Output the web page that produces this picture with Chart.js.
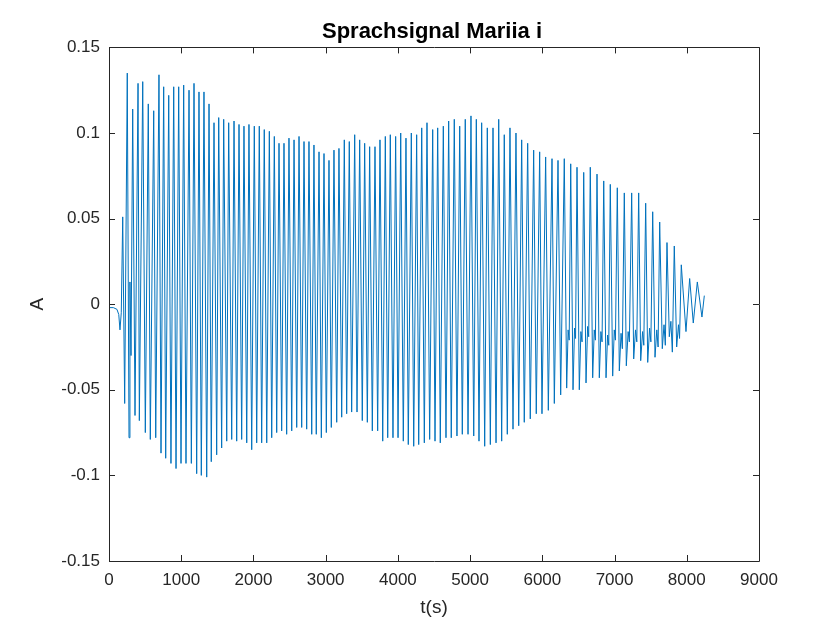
<!DOCTYPE html>
<html>
<head>
<meta charset="utf-8">
<title>Sprachsignal Mariia i</title>
<script src="https://cdn.jsdelivr.net/npm/chart.js@4.4.1/dist/chart.umd.min.js"></script>
<style>
    html, body { margin: 0; padding: 0; background: #fff; }
    #wrap { width: 840px; height: 630px; }
</style>
</head>
<body>
<div id="wrap"><canvas id="sig" width="840" height="630"></canvas></div>
<script>
(function () {
    'use strict';

    var titleText = 'Sprachsignal Mariia i';
    var xLabel = 't(s)';
    var yLabel = 'A';

    var xTicks = [0, 1000, 2000, 3000, 4000, 5000, 6000, 7000, 8000, 9000];
    var xTickLabels = ['0', '1000', '2000', '3000', '4000', '5000', '6000', '7000', '8000', '9000'];
    var yTicks = [-0.15, -0.1, -0.05, 0, 0.05, 0.1, 0.15];
    var yTickLabels = ['-0.15', '-0.1', '-0.05', '0', '0.05', '0.1', '0.15'];

    // turning points of the waveform (sample index, amplitude)
    var tSamples = [
        0, 60, 110, 135, 152, 170, 190, 217, 253, 277, 290, 305,
        328, 360, 402, 420, 467, 503, 544, 572, 619, 647, 692, 720,
        757, 785, 827, 858, 896, 928, 965, 997, 1034, 1066, 1108, 1140,
        1177, 1214, 1246, 1278, 1315, 1353, 1385, 1416, 1454, 1491, 1519, 1560,
        1588, 1630, 1657, 1699, 1731, 1768, 1800, 1837, 1869, 1907, 1938, 1976,
        2012, 2045, 2081, 2114, 2150, 2184, 2220, 2253, 2289, 2322, 2354, 2391,
        2423, 2460, 2492, 2530, 2562, 2599, 2631, 2668, 2700, 2737, 2769, 2807,
        2838, 2870, 2908, 2940, 2977, 3009, 3046, 3078, 3115, 3153, 3184, 3222,
        3258, 3291, 3327, 3360, 3402, 3434, 3471, 3507, 3540, 3577, 3609, 3646,
        3683, 3720, 3752, 3790, 3826, 3859, 3895, 3932, 3969, 4002, 4039, 4075,
        4112, 4144, 4186, 4219, 4260, 4288, 4330, 4366, 4403, 4440, 4482, 4514,
        4551, 4587, 4629, 4666, 4703, 4739, 4781, 4818, 4856, 4892, 4933, 4971,
        5012, 5050, 5086, 5123, 5160, 5202, 5238, 5280, 5317, 5359, 5396, 5437,
        5473, 5515, 5552, 5594, 5635, 5673, 5714, 5750, 5797, 5833, 5880, 5916,
        5963, 5995, 6046, 6083, 6134, 6166, 6217, 6254, 6304,
        6337, 6357, 6372, 6393, 6425, 6446, 6460, 6480, 6512, 6534, 6550, 6573,
        6605, 6627, 6642, 6664, 6697, 6719, 6735, 6757, 6789, 6811, 6827, 6850,
        6882, 6904, 6920, 6941, 6974, 6996, 7012, 7038, 7066, 7090, 7108, 7135,
        7163, 7188, 7205, 7237, 7265, 7290, 7308, 7334, 7362, 7388, 7405, 7431,
        7459, 7485, 7503, 7528, 7560, 7585, 7603, 7625, 7661, 7685, 7703, 7726,
        7758, 7780, 7800, 7827, 7860, 7885, 7900, 7924, 7989, 8040, 8090, 8146,
        8210, 8243
    ];
    var amp = [
        -0.002, -0.002, -0.003, -0.006, -0.015, -0.005, 0.051, -0.058, 0.135, -0.078, 0.013, -0.030,
        0.114, -0.065, 0.129, -0.068, 0.130, -0.075, 0.117, -0.079, 0.113, -0.078, 0.134, -0.087,
        0.127, -0.090, 0.122, -0.093, 0.127, -0.096, 0.127, -0.093, 0.128, -0.093, 0.125, -0.093,
        0.129, -0.099, 0.124, -0.100, 0.124, -0.101, 0.117, -0.092, 0.106, -0.088, 0.109, -0.084,
        0.108, -0.080, 0.106, -0.079, 0.107, -0.080, 0.105, -0.079, 0.104, -0.081, 0.105, -0.085,
        0.104, -0.081, 0.104, -0.081, 0.102, -0.081, 0.101, -0.078, 0.098, -0.075, 0.094, -0.074,
        0.094, -0.076, 0.097, -0.074, 0.096, -0.072, 0.098, -0.072, 0.095, -0.073, 0.095, -0.076,
        0.093, -0.076, 0.089, -0.078, 0.088, -0.075, 0.084, -0.072, 0.090, -0.069, 0.091, -0.066,
        0.096, -0.064, 0.095, -0.063, 0.099, -0.063, 0.096, -0.068, 0.094, -0.069, 0.092, -0.074,
        0.092, -0.074, 0.096, -0.080, 0.098, -0.078, 0.099, -0.078, 0.098, -0.078, 0.100, -0.080,
        0.097, -0.082, 0.100, -0.083, 0.099, -0.082, 0.103, -0.081, 0.106, -0.079, 0.102, -0.080,
        0.103, -0.081, 0.104, -0.078, 0.107, -0.078, 0.108, -0.077, 0.104, -0.076, 0.108, -0.076,
        0.110, -0.077, 0.108, -0.080, 0.106, -0.083, 0.103, -0.082, 0.103, -0.081, 0.108, -0.080,
        0.099, -0.076, 0.103, -0.073, 0.100, -0.071, 0.096, -0.069, 0.094, -0.067, 0.090, -0.064,
        0.089, -0.064, 0.086, -0.062, 0.085, -0.058, 0.084, -0.053, 0.085,
        -0.049, -0.015, -0.021, 0.082, -0.050, -0.014, -0.020, 0.080, -0.050, -0.016, -0.022, 0.077,
        -0.046, -0.013, -0.019, 0.080, -0.043, -0.015, -0.021, 0.076, -0.043, -0.016, -0.022, 0.072,
        -0.043, -0.018, -0.024, 0.070, -0.042, -0.015, -0.021, 0.068, -0.039, -0.017, -0.026, 0.065,
        -0.036, -0.016, -0.022, 0.065, -0.032, -0.015, -0.022, 0.065, -0.033, -0.016, -0.024, 0.059,
        -0.034, -0.014, -0.022, 0.054, -0.031, -0.015, -0.025, 0.048, -0.026, -0.012, -0.024, 0.036,
        -0.019, -0.010, -0.028, 0.034, -0.025, -0.012, -0.020, 0.023, -0.016, 0.015, -0.011, 0.013,
        -0.0075, 0.005
    ];

    var fontFamily = "'Liberation Sans', Arial, Helvetica, sans-serif";
    var axisColor = '#262626';

    var points = tSamples.map(function (t, i) { return { x: t, y: amp[i] }; });

    // MATLAB style box with inward ticks on all four sides
    var matlabBox = {
        id: 'matlabBox',
        afterDatasetsDraw: function (chart) {
            var ctx = chart.ctx;
            var area = chart.chartArea;
            var xs = chart.scales.x;
            var ys = chart.scales.y;
            var len = 6;
            ctx.save();
            ctx.strokeStyle = axisColor;
            ctx.lineWidth = 1;
            ctx.beginPath();
            ctx.rect(Math.round(area.left) + 0.5, Math.round(area.top) + 0.5,
                Math.round(area.right - area.left), Math.round(area.bottom - area.top));
            xs.ticks.forEach(function (tk) {
                var px = Math.round(xs.getPixelForValue(tk.value)) + 0.5;
                ctx.moveTo(px, area.bottom);
                ctx.lineTo(px, area.bottom - len);
                ctx.moveTo(px, area.top);
                ctx.lineTo(px, area.top + len);
            });
            ys.ticks.forEach(function (tk) {
                var py = Math.round(ys.getPixelForValue(tk.value)) + 0.5;
                ctx.moveTo(area.left, py);
                ctx.lineTo(area.left + len, py);
                ctx.moveTo(area.right, py);
                ctx.lineTo(area.right - len, py);
            });
            ctx.stroke();
            ctx.restore();
        }
    };

    new Chart(document.getElementById('sig').getContext('2d'), {
        type: 'line',
        data: {
            datasets: [{
                data: points,
                borderColor: '#0072BD',
                borderWidth: 1,
                pointRadius: 0,
                tension: 0,
                fill: false
            }]
        },
        plugins: [matlabBox],
        options: {
            responsive: false,
            animation: false,
            layout: { padding: { left: 24, right: 0, top: 0, bottom: 0 } },
            plugins: {
                legend: { display: false },
                tooltip: { enabled: false },
                title: {
                    display: true,
                    text: titleText,
                    color: '#000',
                    font: { family: fontFamily, size: 22, weight: 'bold' },
                    padding: { top: 19, bottom: 2 }
                }
            },
            scales: {
                x: {
                    type: 'linear',
                    min: 0,
                    max: 9000,
                    afterBuildTicks: function (s) { s.ticks = xTicks.map(function (v) { return { value: v }; }); },
                    afterFit: function (s) { s.height = 69; },
                    grid: { display: false, drawTicks: false },
                    border: { display: false },
                    ticks: {
                        color: axisColor,
                        padding: 9,
                        maxRotation: 0,
                        font: { family: fontFamily, size: 17 },
                        callback: function (v, i) { return xTickLabels[i]; }
                    },
                    title: {
                        display: true,
                        text: xLabel,
                        color: axisColor,
                        font: { family: fontFamily, size: 19 },
                        padding: { top: 0, bottom: 11 }
                    }
                },
                y: {
                    type: 'linear',
                    min: -0.15,
                    max: 0.15,
                    afterBuildTicks: function (s) { s.ticks = yTicks.map(function (v) { return { value: v }; }); },
                    afterFit: function (s) { s.width = 85; },
                    grid: { display: false, drawTicks: false },
                    border: { display: false },
                    ticks: {
                        color: axisColor,
                        padding: 9,
                        font: { family: fontFamily, size: 17 },
                        callback: function (v, i) { return yTickLabels[i]; }
                    },
                    title: {
                        display: true,
                        text: yLabel,
                        color: axisColor,
                        font: { family: fontFamily, size: 19 },
                        padding: { top: 2, bottom: 0 }
                    }
                },
                // empty right margin so the title centres over the axes
                yRight: {
                    type: 'linear',
                    position: 'right',
                    display: true,
                    afterFit: function (s) { s.width = 81; },
                    grid: { display: false, drawTicks: false },
                    border: { display: false },
                    ticks: { display: false }
                }
            }
        }
    });
})();
</script>
</body>
</html>
